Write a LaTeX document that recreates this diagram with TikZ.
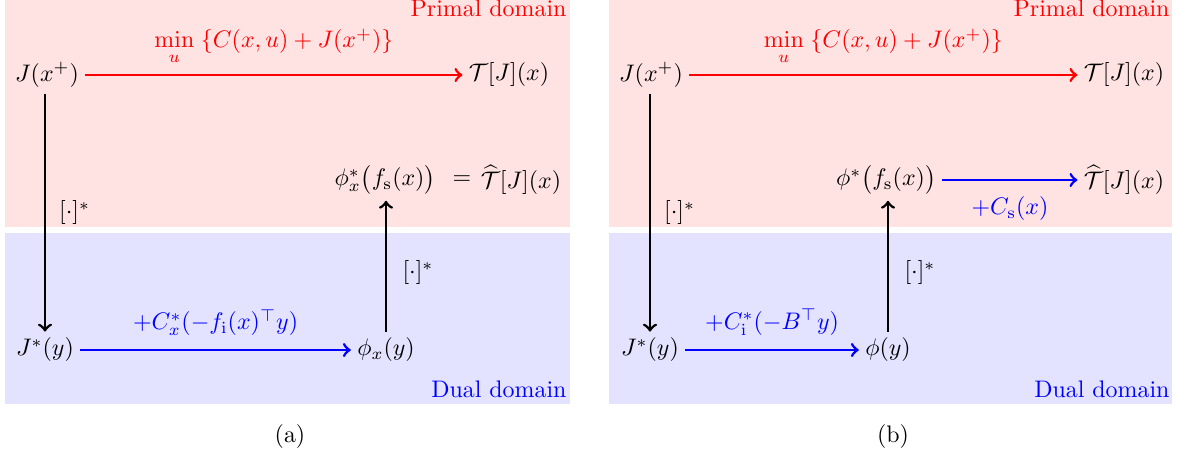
\documentclass[tikz,border=0pt]{standalone}
\usepackage{amsmath,amssymb}
\begin{document}
\begin{tikzpicture}[x=0.418pt,y=-0.418pt,
  mathnode/.style={inner sep=2.5pt},
  arr/.style={->,line width=1.15pt},
  primalfill/.style={fill=red!11,draw=none},
  dualfill/.style={fill=blue!11,draw=none},
  dom/.style={inner sep=0pt}]
\useasboundingbox (0,0) rectangle (1182,460);
% ---------- regions ----------
\fill[primalfill] (5,0) rectangle (570,227);
\fill[dualfill] (5,233) rectangle (570,404);
\fill[primalfill] (609,0) rectangle (1172,227);
\fill[dualfill] (609,233) rectangle (1172,404);
\node[dom,anchor=base east,text=red] (pa) at (567,17) {Primal domain};
\node[dom,anchor=base east,text=blue] (da) at (567,397) {Dual domain};
\node[dom,anchor=base east,text=red] (pb) at (1170,17) {Primal domain};
\node[dom,anchor=base east,text=blue] (db) at (1170,397) {Dual domain};
% ---------- panel (a) ----------
\node[mathnode] (Ja) at (47,75) {$J(x^+)$};
\node[mathnode] (Ta) at (509,75) {$\mathcal{T}[J](x)$};
\node[mathnode] (Jsa) at (45,350) {$J^*(y)$};
\node[mathnode] (phia) at (386,350) {$\phi_x(y)$};
\node[mathnode] (phisa) at (385,180) {$\phi_x^*\big(f_{\mathrm{s}}(x)\big)$};
\node[inner sep=0pt] (eqa) at (462,180) {$=$};
\node[inner sep=1pt] (Tha) at (521,180) {$\widehat{\mathcal{T}}[J](x)$};
\draw[arr,red] (Ja) -- node[above=0.5pt,text=red] {$\min\limits_u\;\{C(x,u)+J(x^+)\}$} (Ta);
\draw[arr] (Ja.south -| Jsa) -- node[right=2pt] {$[\cdot]^*$} (Jsa);
\draw[arr,blue] (Jsa) -- node[above=2pt,text=blue] {$+C_x^*(-f_{\mathrm{i}}(x)^\top y)$} (phia);
\draw[arr] (phia) -- node[right=3pt,pos=0.45] {$[\cdot]^*$} (phia |- phisa.south);
\node (capa) at (290,437) {(a)};
% ---------- panel (b) ----------
\node[mathnode] (Jb) at (651,75) {$J(x^+)$};
\node[mathnode] (Tb) at (1124,75) {$\mathcal{T}[J](x)$};
\node[mathnode] (Jsb) at (650,350) {$J^*(y)$};
\node[mathnode] (phib) at (888,350) {$\phi(y)$};
\node[mathnode] (phisb) at (886,180) {$\phi^*\big(f_{\mathrm{s}}(x)\big)$};
\node[mathnode] (Thb) at (1124,180) {$\widehat{\mathcal{T}}[J](x)$};
\draw[arr,red] (Jb) -- node[above=0.5pt,text=red] {$\min\limits_u\;\{C(x,u)+J(x^+)\}$} (Tb);
\draw[arr] (Jb.south -| Jsb) -- node[right=2pt] {$[\cdot]^*$} (Jsb);
\draw[arr,blue] (Jsb) -- node[above=2pt,text=blue] {$+C_{\mathrm{i}}^*(-B^\top y)$} (phib);
\draw[arr] (phib) -- node[right=3pt,pos=0.45] {$[\cdot]^*$} (phib |- phisb.south);
\draw[arr,blue] (phisb) -- node[below=3pt,text=blue] {$+C_{\mathrm{s}}(x)$} (Thb);
\node (capb) at (893,437) {(b)};
\end{tikzpicture}
\end{document}
